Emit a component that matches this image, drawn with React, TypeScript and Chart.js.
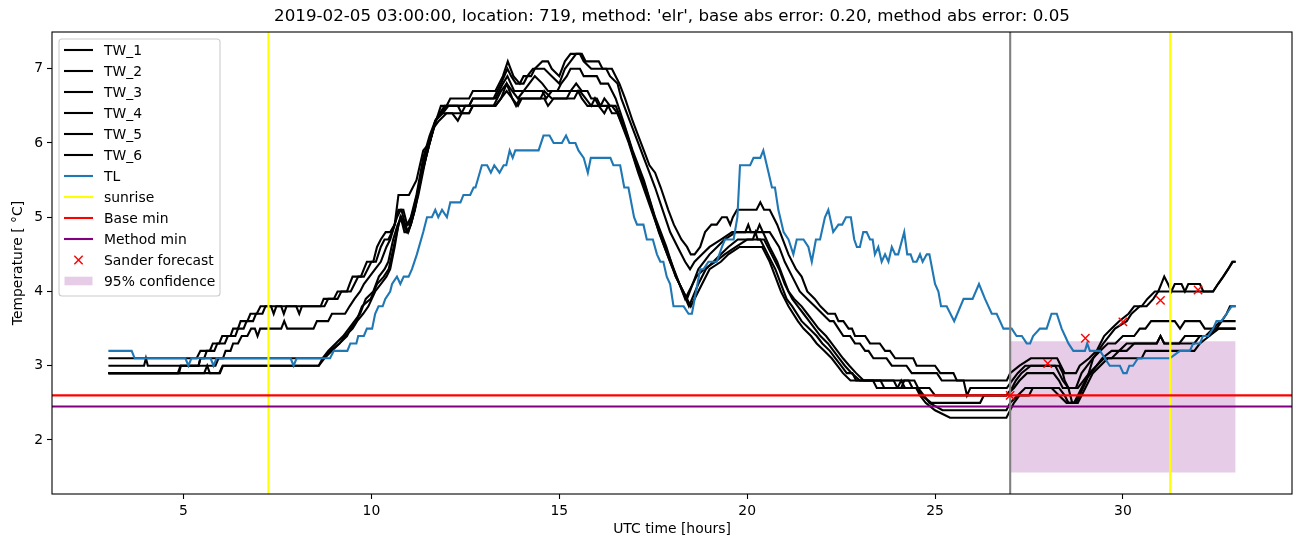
import React, { useEffect, useRef } from 'react';
import { Chart, registerables } from 'chart.js';

Chart.register(...registerables);

// ---------------- data (hour, °C) ----------------
const TW_1: number[][] = [
  [3,3.1],[5.35,3.1],[5.45,3.2],[5.7,3.2],[5.78,3.3],[5.95,3.3],[6.03,3.4],[6.25,3.4],[6.32,3.5],[6.45,3.5],[6.52,3.6],[6.7,3.6],[6.78,3.7],[6.95,3.7],[7.05,3.8],[7.33,3.8],[7.4,3.7],[7.47,3.8],[7.6,3.8],[7.67,3.7],[7.74,3.8],[8.65,3.8],[8.73,3.9],[9.0,3.9],[9.1,4.0],[9.35,4.0],[9.42,4.1],[9.5,4.2],[9.72,4.2],[9.8,4.3],[9.88,4.4],[10.05,4.4],[10.15,4.6],[10.25,4.7],[10.38,4.8],[10.5,4.8],[10.62,4.9],[10.72,5.3],[10.9,5.3],[11.0,5.3],[11.2,5.5],[11.38,5.9],[11.55,6.0],[11.72,6.3],[11.85,6.5],[12.0,6.5],[12.1,6.6],[12.6,6.6],[12.7,6.7],[13.3,6.7],[13.5,6.9],[13.63,7.1],[13.78,6.9],[13.95,6.8],[14.05,6.9],[14.25,6.9],[14.35,7.0],[14.55,7.1],[14.7,7.1],[14.8,7.0],[15.0,6.9],[15.15,7.1],[15.3,7.2],[15.6,7.2],[15.7,7.1],[16.05,7.1],[16.15,7.0],[16.4,7.0],[16.5,6.9],[16.6,6.8],[16.75,6.6],[16.95,6.3],[17.1,6.1],[17.25,5.9],[17.4,5.7],[17.55,5.6],[17.7,5.4],[17.9,5.1],[18.05,4.9],[18.25,4.7],[18.4,4.6],[18.5,4.5],[18.6,4.5],[18.75,4.6],[18.88,4.8],[19.05,4.9],[19.19,4.9],[19.33,5.0],[19.46,5.0],[19.55,4.9],[19.62,5.0],[19.73,5.1],[20.25,5.1],[20.35,5.2],[20.45,5.1],[20.6,5.1],[20.8,4.9],[20.95,4.7],[21.1,4.5],[21.3,4.3],[21.45,4.2],[21.6,4.0],[21.8,3.9],[21.95,3.8],[22.15,3.7],[22.34,3.7],[22.43,3.6],[22.56,3.6],[22.7,3.5],[22.79,3.5],[22.87,3.4],[23.14,3.4],[23.27,3.3],[23.53,3.3],[23.67,3.2],[23.8,3.2],[23.94,3.1],[24.42,3.1],[24.51,3.0],[25.0,3.0],[25.14,2.9],[25.49,2.9],[25.58,2.8],[26.91,2.8],[27.0,2.9],[27.25,3.0],[27.55,3.1],[28.25,3.1],[28.35,3.0],[28.45,2.9],[28.75,2.9],[28.85,3.0],[29.1,3.1],[29.3,3.2],[29.5,3.4],[29.7,3.5],[29.9,3.6],[30.15,3.7],[30.3,3.8],[30.5,3.8],[30.65,3.9],[30.85,4.0],[32.4,4.0],[32.53,4.1],[32.67,4.2],[32.8,4.3],[32.93,4.4],[33,4.4],
];
const TW_2: number[][] = [
  [3,3.0],[3.95,3.0],[4.0,3.1],[4.05,3.0],[5.4,3.0],[5.45,3.1],[5.55,3.1],[5.62,3.2],[5.82,3.2],[5.9,3.3],[6.1,3.3],[6.18,3.4],[6.38,3.4],[6.45,3.5],[6.6,3.5],[6.68,3.6],[6.85,3.6],[6.93,3.7],[7.1,3.7],[7.18,3.8],[8.0,3.8],[8.08,3.7],[8.15,3.8],[8.75,3.8],[8.85,3.9],[9.1,3.9],[9.2,4.0],[9.45,4.0],[9.55,4.1],[9.65,4.2],[9.8,4.2],[9.9,4.3],[10.0,4.4],[10.12,4.4],[10.25,4.6],[10.35,4.7],[10.45,4.7],[10.55,4.8],[10.68,5.0],[10.78,5.1],[10.85,5.1],[10.95,4.9],[11.05,5.0],[11.2,5.3],[11.38,5.8],[11.55,6.1],[11.7,6.3],[11.82,6.4],[11.9,6.4],[12.05,6.5],[12.6,6.5],[12.7,6.6],[13.25,6.6],[13.45,6.8],[13.62,7.0],[13.72,6.9],[13.85,6.8],[14.05,6.8],[14.15,6.9],[14.3,7.0],[14.6,7.0],[14.8,6.9],[15.0,6.8],[15.15,7.0],[15.3,7.1],[15.45,7.2],[15.55,7.2],[15.65,7.1],[15.85,7.0],[16.25,7.0],[16.35,6.9],[16.55,6.8],[16.65,6.6],[16.8,6.4],[16.95,6.2],[17.1,6.0],[17.25,5.8],[17.4,5.6],[17.55,5.4],[17.75,5.1],[17.95,4.8],[18.15,4.6],[18.35,4.4],[18.48,4.3],[18.6,4.4],[18.8,4.5],[19.0,4.6],[19.3,4.7],[19.6,4.8],[19.95,4.8],[20.03,4.9],[20.1,4.8],[20.25,4.8],[20.33,4.9],[20.42,4.8],[20.6,4.8],[20.85,4.6],[21.0,4.4],[21.2,4.2],[21.4,4.0],[21.6,3.9],[21.8,3.8],[22.0,3.7],[22.2,3.6],[22.3,3.6],[22.43,3.5],[22.56,3.4],[22.74,3.4],[22.87,3.3],[23.0,3.3],[23.14,3.2],[23.23,3.2],[23.36,3.1],[23.71,3.1],[23.85,3.0],[24.24,3.0],[24.38,2.9],[25.05,2.9],[25.18,2.8],[25.76,2.8],[25.85,2.6],[25.94,2.7],[26.91,2.7],[27.05,2.8],[27.2,2.9],[27.4,3.0],[28.2,3.0],[28.3,2.9],[28.4,2.8],[28.55,2.7],[28.75,2.7],[28.9,2.9],[29.05,3.0],[29.2,3.1],[29.4,3.2],[29.6,3.3],[29.8,3.3],[30.0,3.4],[30.3,3.4],[30.45,3.5],[30.6,3.5],[30.75,3.6],[31.38,3.6],[31.52,3.5],[31.65,3.6],[32.05,3.6],[32.18,3.5],[32.49,3.5],[32.63,3.6],[32.76,3.7],[32.85,3.8],[33,3.8],
];
const TW_3: number[][] = [
  [3,2.9],[4.85,2.9],[4.92,3.0],[5.85,3.0],[5.93,3.1],[6.05,3.1],[6.12,3.2],[6.25,3.2],[6.32,3.3],[6.45,3.3],[6.55,3.4],[6.7,3.4],[6.8,3.5],[6.9,3.5],[6.97,3.4],[7.04,3.5],[7.6,3.5],[7.68,3.6],[7.76,3.5],[8.46,3.5],[8.55,3.6],[8.85,3.6],[8.95,3.7],[9.3,3.7],[9.42,3.8],[9.55,3.9],[9.7,4.0],[9.8,4.1],[9.95,4.2],[10.1,4.3],[10.25,4.4],[10.4,4.6],[10.5,4.7],[10.62,4.9],[10.72,5.1],[10.8,5.1],[10.9,4.9],[10.98,4.8],[11.05,4.9],[11.15,5.1],[11.3,5.5],[11.45,5.9],[11.6,6.1],[11.72,6.3],[11.82,6.4],[11.95,6.5],[12.6,6.5],[12.7,6.6],[13.3,6.6],[13.5,6.8],[13.62,6.9],[13.8,6.7],[14.05,6.7],[14.2,6.8],[14.35,6.9],[14.55,6.8],[14.7,6.7],[14.95,6.7],[15.05,6.8],[15.2,6.9],[15.3,7.0],[15.55,7.0],[15.65,6.9],[16.0,6.9],[16.1,6.8],[16.3,6.8],[16.4,6.7],[16.5,6.6],[16.7,6.3],[16.95,5.9],[17.25,5.5],[17.55,5.0],[17.85,4.6],[18.1,4.2],[18.4,3.9],[18.7,4.3],[18.85,4.4],[19.0,4.5],[19.2,4.6],[19.4,4.7],[19.7,4.8],[20.42,4.8],[20.6,4.6],[20.8,4.4],[20.95,4.2],[21.1,4.0],[21.25,3.9],[21.45,3.8],[21.6,3.7],[21.75,3.6],[21.9,3.5],[22.1,3.4],[22.25,3.3],[22.4,3.2],[22.55,3.1],[22.72,3.0],[22.9,2.9],[23.1,2.8],[23.9,2.8],[24.0,2.7],[24.1,2.7],[24.18,2.8],[24.3,2.8],[24.4,2.7],[24.85,2.7],[25.0,2.6],[26.9,2.6],[27.05,2.7],[27.15,2.8],[27.3,2.9],[27.55,3.0],[28.3,3.0],[28.4,2.9],[28.45,2.8],[28.55,2.7],[28.65,2.5],[28.75,2.5],[29.03,2.8],[29.21,3.1],[29.48,3.3],[29.79,3.5],[30.1,3.6],[30.23,3.7],[30.45,3.8],[30.63,3.8],[30.81,3.9],[30.94,4.0],[31.02,4.1],[31.1,4.2],[31.2,4.1],[31.29,4.0],[31.38,4.1],[31.56,4.1],[31.65,4.0],[31.74,4.1],[32.05,4.1],[32.14,4.0],[32.4,4.0],[32.53,4.1],[32.67,4.2],[32.8,4.3],[32.91,4.4],[33,4.4],
];
const TW_4: number[][] = [
  [3,2.9],[5.55,2.9],[5.63,3.0],[5.7,2.9],[5.95,2.9],[6.04,3.0],[8.6,3.0],[8.7,3.1],[8.9,3.2],[9.15,3.3],[9.35,3.4],[9.45,3.5],[9.6,3.6],[9.75,3.8],[9.98,3.9],[10.15,4.1],[10.33,4.2],[10.46,4.3],[10.55,4.5],[10.68,4.8],[10.77,5.0],[10.85,4.9],[10.95,4.8],[11.05,4.9],[11.16,5.1],[11.35,5.6],[11.55,6.0],[11.7,6.3],[11.85,6.4],[12.0,6.5],[12.3,6.5],[12.4,6.4],[12.5,6.5],[13.25,6.5],[13.45,6.7],[13.6,6.8],[13.75,6.7],[13.9,6.6],[14.05,6.7],[14.55,6.7],[14.65,6.6],[14.8,6.7],[15.3,6.7],[15.45,6.8],[15.6,6.7],[15.75,6.7],[15.85,6.6],[16.0,6.6],[16.1,6.5],[16.2,6.6],[16.35,6.5],[16.5,6.5],[16.75,6.2],[17.0,5.8],[17.3,5.4],[17.6,4.9],[17.9,4.5],[18.2,4.1],[18.45,3.8],[18.7,4.1],[18.9,4.3],[19.1,4.4],[19.3,4.5],[19.5,4.6],[19.75,4.7],[20.45,4.7],[20.65,4.5],[20.85,4.3],[21.0,4.1],[21.2,3.9],[21.35,3.8],[21.5,3.7],[21.65,3.6],[21.8,3.5],[21.95,3.4],[22.15,3.3],[22.3,3.2],[22.45,3.1],[22.6,3.0],[22.78,2.9],[23.0,2.8],[23.55,2.8],[23.65,2.7],[24.5,2.7],[24.65,2.6],[24.9,2.5],[26.2,2.5],[26.3,2.6],[26.9,2.6],[27.1,2.7],[27.25,2.8],[27.45,2.9],[28.15,2.9],[28.3,2.8],[28.4,2.7],[28.8,2.7],[28.95,2.8],[29.1,2.9],[29.3,3.0],[29.45,3.1],[29.7,3.2],[29.9,3.2],[30.1,3.3],[30.9,3.3],[31.0,3.4],[31.1,3.3],[31.9,3.3],[32.05,3.4],[32.2,3.4],[32.4,3.5],[32.6,3.6],[33,3.6],
];
const TW_5: number[][] = [
  [3,2.9],[4.88,2.9],[4.93,3.0],[5.4,3.0],[5.45,3.1],[8.7,3.1],[8.85,3.2],[9.05,3.3],[9.25,3.4],[9.4,3.5],[9.55,3.6],[9.7,3.7],[9.85,3.9],[10.05,4.0],[10.2,4.2],[10.35,4.3],[10.45,4.4],[10.58,4.7],[10.7,4.9],[10.8,5.0],[10.9,4.9],[11.0,4.9],[11.12,5.1],[11.3,5.5],[11.5,5.9],[11.65,6.2],[11.8,6.3],[12.0,6.4],[12.6,6.4],[12.7,6.5],[13.3,6.5],[13.45,6.6],[13.6,6.8],[13.75,6.6],[13.9,6.5],[14.0,6.6],[14.5,6.6],[14.6,6.7],[14.8,6.6],[15.2,6.6],[15.3,6.7],[15.55,6.7],[15.7,6.6],[15.85,6.5],[15.95,6.6],[16.05,6.5],[16.2,6.4],[16.3,6.5],[16.4,6.4],[16.55,6.4],[16.8,6.1],[17.05,5.7],[17.35,5.3],[17.65,4.8],[17.95,4.4],[18.2,4.1],[18.35,3.9],[18.65,4.2],[18.85,4.3],[19.15,4.4],[19.4,4.5],[19.7,4.6],[20.0,4.7],[20.15,4.7],[20.22,4.8],[20.28,4.7],[20.35,4.7],[20.55,4.5],[20.75,4.3],[20.9,4.1],[21.05,3.9],[21.2,3.8],[21.45,3.6],[21.65,3.5],[21.85,3.4],[22.0,3.3],[22.2,3.2],[22.35,3.1],[22.5,3.0],[22.65,2.9],[22.8,2.9],[22.9,2.8],[24.45,2.8],[24.55,2.7],[24.7,2.6],[24.85,2.5],[25.2,2.4],[26.9,2.4],[27.0,2.5],[27.2,2.6],[27.4,2.7],[28.1,2.7],[28.3,2.6],[28.5,2.5],[28.8,2.5],[29.0,2.7],[29.2,2.9],[29.4,3.0],[29.6,3.1],[30.5,3.1],[30.6,3.2],[31.9,3.2],[32.05,3.3],[32.3,3.4],[32.55,3.5],[33,3.5],
];
const TW_6: number[][] = [
  [3,2.9],[5.97,2.9],[6.05,3.0],[8.6,3.0],[8.75,3.1],[8.95,3.2],[9.15,3.3],[9.3,3.4],[9.5,3.5],[9.62,3.6],[9.78,3.7],[9.92,3.8],[10.1,4.0],[10.25,4.1],[10.4,4.2],[10.5,4.3],[10.62,4.6],[10.72,4.9],[10.78,5.0],[10.88,4.8],[10.98,4.8],[11.1,5.0],[11.25,5.3],[11.45,5.8],[11.6,6.1],[11.7,6.3],[11.9,6.4],[12.15,6.4],[12.3,6.3],[12.4,6.4],[12.6,6.4],[12.7,6.5],[13.3,6.5],[13.45,6.6],[13.6,6.7],[13.75,6.6],[13.85,6.5],[13.95,6.6],[14.6,6.6],[14.7,6.5],[14.85,6.6],[15.4,6.6],[15.5,6.7],[15.6,6.6],[15.75,6.5],[16.4,6.5],[16.55,6.4],[16.85,6.0],[17.1,5.6],[17.45,5.1],[17.8,4.6],[18.1,4.2],[18.5,3.8],[18.8,4.1],[19.0,4.3],[19.3,4.4],[19.5,4.5],[19.8,4.6],[20.4,4.6],[20.6,4.4],[20.75,4.2],[20.9,4.0],[21.1,3.8],[21.35,3.6],[21.5,3.5],[21.7,3.4],[21.85,3.3],[22.05,3.2],[22.25,3.1],[22.4,3.0],[22.55,2.9],[22.75,2.8],[23.35,2.8],[23.45,2.7],[24.0,2.7],[24.1,2.8],[24.2,2.7],[24.5,2.7],[24.6,2.6],[24.75,2.5],[25.0,2.4],[25.4,2.3],[26.9,2.3],[27.0,2.4],[27.1,2.5],[27.25,2.6],[27.5,2.6],[27.6,2.7],[28.3,2.7],[28.45,2.6],[28.55,2.5],[28.7,2.5],[28.8,2.6],[29.0,2.8],[29.15,2.9],[29.3,3.0],[29.5,3.1],[29.7,3.1],[29.9,3.2],[30.1,3.2],[30.3,3.3],[30.9,3.3],[31.0,3.4],[31.1,3.3],[31.5,3.3],[31.65,3.4],[32.3,3.4],[32.45,3.5],[33,3.5],
];
const TL: number[][] = [
  [3,3.2],[3.62,3.2],[3.7,3.1],[5.05,3.1],[5.13,3.0],[5.21,3.1],[5.72,3.1],[5.8,3.0],[5.88,3.1],[7.85,3.1],[7.93,3.0],[8.01,3.1],[8.9,3.1],[9.0,3.2],[9.36,3.2],[9.44,3.3],[9.6,3.3],[9.65,3.4],[9.8,3.4],[9.88,3.5],[10.02,3.5],[10.1,3.7],[10.19,3.8],[10.3,3.8],[10.37,3.9],[10.5,4.0],[10.55,4.1],[10.68,4.2],[10.77,4.1],[10.86,4.2],[10.99,4.2],[11.08,4.3],[11.21,4.5],[11.38,4.8],[11.48,5.0],[11.61,5.0],[11.7,5.1],[11.78,5.0],[11.88,5.1],[12.01,5.0],[12.1,5.2],[12.37,5.2],[12.45,5.3],[12.63,5.3],[12.72,5.4],[12.77,5.4],[12.94,5.7],[13.08,5.7],[13.18,5.6],[13.27,5.7],[13.41,5.6],[13.52,5.7],[13.59,5.7],[13.68,5.9],[13.76,5.8],[13.83,5.9],[14.45,5.9],[14.58,6.1],[14.74,6.1],[14.85,6.0],[15.07,6.0],[15.18,6.1],[15.27,6.0],[15.43,6.0],[15.51,5.9],[15.65,5.8],[15.76,5.6],[15.84,5.8],[16.36,5.8],[16.44,5.7],[16.62,5.7],[16.73,5.4],[16.84,5.4],[16.99,5.0],[17.07,4.9],[17.24,4.9],[17.33,4.7],[17.49,4.7],[17.6,4.5],[17.69,4.4],[17.77,4.4],[17.86,4.2],[17.95,4.1],[18.04,3.8],[18.31,3.8],[18.44,3.7],[18.53,3.7],[18.75,4.3],[18.84,4.3],[18.97,4.4],[19.19,4.4],[19.33,4.6],[19.41,4.7],[19.64,4.7],[19.74,5.0],[19.81,5.7],[20.08,5.7],[20.17,5.8],[20.35,5.8],[20.43,5.9],[20.57,5.6],[20.66,5.4],[20.74,5.4],[20.83,5.1],[20.97,4.8],[21.1,4.7],[21.23,4.5],[21.32,4.7],[21.5,4.7],[21.63,4.6],[21.72,4.4],[21.83,4.7],[21.94,4.7],[22.07,5.0],[22.16,5.1],[22.29,4.8],[22.43,4.9],[22.53,4.9],[22.63,5.0],[22.76,5.0],[22.85,4.7],[22.92,4.6],[23.0,4.6],[23.09,4.8],[23.18,4.8],[23.27,4.7],[23.34,4.7],[23.4,4.5],[23.49,4.6],[23.58,4.4],[23.67,4.5],[23.76,4.4],[23.85,4.6],[23.94,4.5],[24.02,4.5],[24.18,4.8],[24.26,4.5],[24.35,4.5],[24.42,4.4],[24.51,4.4],[24.6,4.5],[24.67,4.4],[24.78,4.5],[24.85,4.5],[25.0,4.1],[25.09,4.0],[25.16,3.8],[25.31,3.8],[25.51,3.6],[25.76,3.9],[26.0,3.9],[26.17,4.1],[26.33,3.9],[26.51,3.7],[26.64,3.7],[26.82,3.5],[27.04,3.5],[27.17,3.4],[27.31,3.4],[27.44,3.3],[27.53,3.3],[27.61,3.4],[27.79,3.5],[27.97,3.5],[28.1,3.7],[28.24,3.7],[28.37,3.5],[28.46,3.4],[28.55,3.3],[28.68,3.2],[28.99,3.2],[29.05,3.3],[29.12,3.2],[29.39,3.2],[29.52,3.1],[29.65,3.0],[29.92,3.0],[30.01,2.9],[30.1,2.9],[30.17,3.0],[30.27,3.0],[30.4,3.1],[31.25,3.1],[31.52,3.2],[31.78,3.2],[31.87,3.3],[32.05,3.3],[32.13,3.4],[32.27,3.4],[32.4,3.5],[32.49,3.6],[32.62,3.6],[32.76,3.7],[32.89,3.8],[33,3.8],
];

const TW_NAMES = ['TW_1', 'TW_2', 'TW_3', 'TW_4', 'TW_5', 'TW_6'];
const SUNRISE_HOURS = [7.26, 31.26];
const FORECAST_START_HOUR = 27.0;
const BASE_MIN = 2.6;
const METHOD_MIN = 2.45;
const SANDER_HOURS = [27, 28, 29, 30, 31, 32];
const SANDER_VALUES = [2.6, 3.03, 3.37, 3.59, 3.88, 4.02];
const CONF_HOURS = [27, 33];
const CONF_LOW = 1.56;
const CONF_HIGH = 3.33;
const X_TICKS = [5, 10, 15, 20, 25, 30];
const Y_TICKS = [2, 3, 4, 5, 6, 7];
const X_RANGE = [1.5, 34.5];
const Y_RANGE = [1.272, 7.495];
const TITLE = "2019-02-05 03:00:00, location: 719, method: 'elr', base abs error: 0.20, method abs error: 0.05";
const X_LABEL = 'UTC time [hours]';
const Y_LABEL = 'Temperature [ °C]';

const FONT = 'DejaVu Sans';
const TW_COLOR = '#000000';
const TL_COLOR = '#1f77b4';
const CONF_COLOR = 'rgba(128,0,128,0.2)';

const LEGEND_ITEMS = [
  ...TW_NAMES.map((n) => ({ label: n, kind: 'line', color: TW_COLOR })),
  { label: 'TL', kind: 'line', color: TL_COLOR },
  { label: 'sunrise', kind: 'line', color: '#ffff00' },
  { label: 'Base min', kind: 'line', color: '#ff0000' },
  { label: 'Method min', kind: 'line', color: '#800080' },
  { label: 'Sander forecast', kind: 'x', color: '#ff0000' },
  { label: '95% confidence', kind: 'patch', color: CONF_COLOR },
];

const toPts = (arr: number[][]) => arr.map(([x, y]) => ({ x, y }));

const decorPlugin = {
  id: 'decor',
  afterDatasetsDraw(chart: any) {
    const { ctx, chartArea: a } = chart;
    ctx.save();
    ctx.strokeStyle = '#000';
    ctx.lineWidth = 1.1;
    ctx.strokeRect(a.left, a.top, a.right - a.left, a.bottom - a.top);
    ctx.restore();
  },
  afterDraw(chart: any) {
    const { ctx, chartArea: a } = chart;
    ctx.save();
    // title
    ctx.fillStyle = '#000';
    ctx.font = `16.7px "${FONT}"`;
    ctx.textAlign = 'center';
    ctx.textBaseline = 'middle';
    ctx.fillText(TITLE, (a.left + a.right) / 2, 17);

    // legend
    const bx = 59, by = 39, bw = 161, bh = 257, r = 3;
    ctx.beginPath();
    ctx.moveTo(bx + r, by);
    ctx.lineTo(bx + bw - r, by);
    ctx.quadraticCurveTo(bx + bw, by, bx + bw, by + r);
    ctx.lineTo(bx + bw, by + bh - r);
    ctx.quadraticCurveTo(bx + bw, by + bh, bx + bw - r, by + bh);
    ctx.lineTo(bx + r, by + bh);
    ctx.quadraticCurveTo(bx, by + bh, bx, by + bh - r);
    ctx.lineTo(bx, by + r);
    ctx.quadraticCurveTo(bx, by, bx + r, by);
    ctx.closePath();
    ctx.fillStyle = 'rgba(255,255,255,0.8)';
    ctx.fill();
    ctx.strokeStyle = '#cccccc';
    ctx.lineWidth = 1.1;
    ctx.stroke();

    ctx.font = `13.9px "${FONT}"`;
    ctx.textAlign = 'left';
    ctx.textBaseline = 'middle';
    LEGEND_ITEMS.forEach((it, i) => {
      const cy = 50 + 21 * i;
      if (it.kind === 'line') {
        ctx.strokeStyle = it.color;
        ctx.lineWidth = 2.1;
        ctx.beginPath();
        ctx.moveTo(64, cy);
        ctx.lineTo(93, cy);
        ctx.stroke();
      } else if (it.kind === 'x') {
        ctx.strokeStyle = it.color;
        ctx.lineWidth = 1.4;
        const h = 4.15, cx = 78.5;
        ctx.beginPath();
        ctx.moveTo(cx - h, cy - h);
        ctx.lineTo(cx + h, cy + h);
        ctx.moveTo(cx + h, cy - h);
        ctx.lineTo(cx - h, cy + h);
        ctx.stroke();
      } else {
        ctx.fillStyle = it.color;
        ctx.fillRect(64.5, cy - 4.3, 28, 8.6);
      }
      ctx.fillStyle = '#000';
      ctx.fillText(it.label, 104, cy + 1);
    });
    ctx.restore();
  },
};

export default function App() {
  const ref = useRef<HTMLCanvasElement | null>(null);

  useEffect(() => {
    if (!ref.current) return;
    const lineDs = (data: any[], color: string, width = 2.1) => ({
      type: 'line',
      data,
      borderColor: color,
      backgroundColor: color,
      borderWidth: width,
      pointRadius: 0,
      pointHoverRadius: 0,
      fill: false,
      tension: 0,
    });

    const datasets: any[] = [];
    // confidence band (behind)
    datasets.push({
      type: 'line',
      data: CONF_HOURS.map((h) => ({ x: h, y: CONF_HIGH })),
      borderColor: 'rgba(0,0,0,0)',
      borderWidth: 0,
      pointRadius: 0,
      backgroundColor: CONF_COLOR,
      fill: { value: CONF_LOW },
    });
    [TW_1, TW_2, TW_3, TW_4, TW_5, TW_6].forEach((s) => datasets.push(lineDs(toPts(s), TW_COLOR)));
    datasets.push(lineDs(toPts(TL), TL_COLOR));
    SUNRISE_HOURS.forEach((h) =>
      datasets.push(lineDs([{ x: h, y: Y_RANGE[0] }, { x: h, y: Y_RANGE[1] }], '#ffff00'))
    );
    datasets.push(lineDs([{ x: X_RANGE[0], y: BASE_MIN }, { x: X_RANGE[1], y: BASE_MIN }], '#ff0000'));
    datasets.push(lineDs([{ x: X_RANGE[0], y: METHOD_MIN }, { x: X_RANGE[1], y: METHOD_MIN }], '#800080'));
    datasets.push(
      lineDs([{ x: FORECAST_START_HOUR, y: Y_RANGE[0] }, { x: FORECAST_START_HOUR, y: Y_RANGE[1] }], '#808080')
    );
    datasets.push({
      type: 'line',
      data: SANDER_HOURS.map((h, i) => ({ x: h, y: SANDER_VALUES[i] })),
      showLine: false,
      pointStyle: 'crossRot',
      pointRadius: 5.9,
      pointBorderColor: '#ff0000',
      pointBackgroundColor: '#ff0000',
      pointBorderWidth: 1.4,
      borderColor: '#ff0000',
    });
    datasets.forEach((d, i) => (d.order = -i));

    const tickFont = { family: FONT, size: 13.9 };
    const chart = new Chart(ref.current, {
      type: 'line',
      data: { datasets },
      plugins: [decorPlugin],
      options: {
        animation: false,
        responsive: false,
        devicePixelRatio: 1,
        events: [],
        layout: { padding: { top: 32, right: 10, left: 0, bottom: 0 } },
        plugins: { legend: { display: false }, tooltip: { enabled: false }, title: { display: false } },
        scales: {
          x: {
            type: 'linear',
            min: X_RANGE[0],
            max: X_RANGE[1],
            afterBuildTicks: (s: any) => {
              s.ticks = X_TICKS.map((v) => ({ value: v }));
            },
            afterFit: (s: any) => {
              s.height = 53;
            },
            grid: { display: true, drawOnChartArea: false, drawTicks: true, tickLength: 5, tickWidth: 1.1, tickColor: '#000' },
            border: { display: false },
            ticks: { color: '#000', font: tickFont, padding: 4, maxRotation: 0, autoSkip: false, callback: (v: any) => String(v) },
            title: { display: true, text: X_LABEL, color: '#000', font: tickFont, padding: { top: 0, bottom: 9.7 } },
          },
          y: {
            type: 'linear',
            min: Y_RANGE[0],
            max: Y_RANGE[1],
            afterBuildTicks: (s: any) => {
              s.ticks = Y_TICKS.map((v) => ({ value: v }));
            },
            afterFit: (s: any) => {
              s.width = 52;
            },
            grid: { display: true, drawOnChartArea: false, drawTicks: true, tickLength: 5, tickWidth: 1.1, tickColor: '#000' },
            border: { display: false },
            ticks: { color: '#000', font: tickFont, padding: 4, autoSkip: false, callback: (v: any) => String(v) },
            title: { display: true, text: Y_LABEL, color: '#000', font: tickFont, padding: { top: 9.7, bottom: 0 } },
          },
        },
      } as any,
    } as any);
    return () => chart.destroy();
  }, []);

  return (
    <div style={{ position: 'fixed', left: 0, top: 0, width: 1302, height: 547, background: '#fff' }}>
      <canvas ref={ref} width={1302} height={547} style={{ display: 'block', width: 1302, height: 547 }} />
    </div>
  );
}
